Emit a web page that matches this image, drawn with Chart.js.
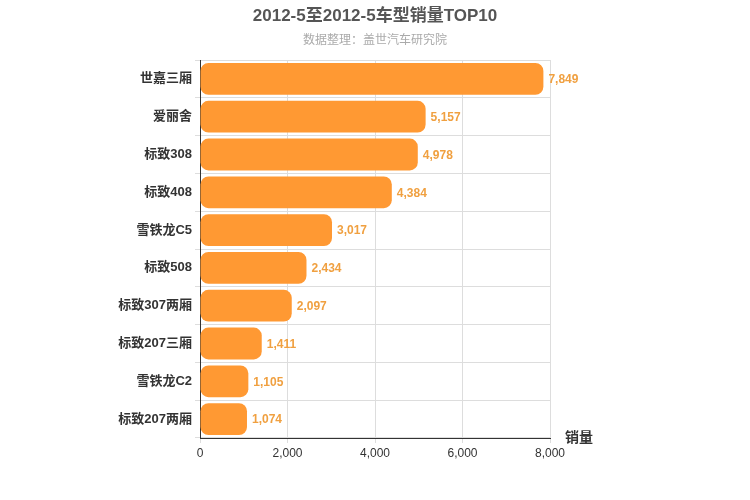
<!DOCTYPE html>
<html>
<head>
<meta charset="utf-8">
<script src="https://cdn.jsdelivr.net/npm/chart.js@4/dist/chart.umd.min.js"></script>
<style>
  body { margin: 0; background: #fff; }
  #wrap { width: 750px; height: 500px; }
</style>
</head>
<body>
<div id="wrap"><canvas id="c"></canvas></div>
<script>
const models = ["世嘉三厢", "爱丽舍", "标致308", "标致408", "雪铁龙C5", "标致508", "标致307两厢", "标致207三厢", "雪铁龙C2", "标致207两厢"];
const sales = [7849, 5157, 4978, 4384, 3017, 2434, 2097, 1411, 1105, 1074];
const xTicks = [0, 2000, 4000, 6000, 8000];

const font = "'Liberation Sans', 'Noto Sans CJK SC', sans-serif";
const fmt = (v) => v.toLocaleString("en-US");

// titles, value labels at bar ends, axis name at the right end
const extras = {
  id: "extras",
  afterDatasetsDraw(chart) {
    const ctx = chart.ctx;
    const meta = chart.getDatasetMeta(0);
    ctx.save();
    ctx.textBaseline = "middle";
    ctx.textAlign = "center";
    ctx.font = "bold 17px " + font;
    ctx.fillStyle = "#555";
    ctx.fillText("2012-5至2012-5车型销量TOP10", 375, 16);
    ctx.font = "12px " + font;
    ctx.fillStyle = "#aaa";
    ctx.fillText("数据整理：盖世汽车研究院", 375, 41);
    ctx.textAlign = "left";
    ctx.font = "bold 12px " + font;
    ctx.fillStyle = "#f0a040";
    meta.data.forEach((bar, i) => ctx.fillText(fmt(sales[i]), bar.x + 5, bar.y + 1));
    const a = chart.chartArea;
    ctx.font = "bold 14px " + font;
    ctx.fillStyle = "#333";
    ctx.fillText("销量", a.right + 15, a.bottom);
    ctx.restore();
  },
};

new Chart(document.getElementById("c"), {
  type: "bar",
  data: {
    labels: models,
    datasets: [{
      data: sales,
      backgroundColor: "#ff9933",
      borderRadius: 8,
      borderSkipped: false,
      barPercentage: 0.84,
      categoryPercentage: 1,
    }],
  },
  options: {
    indexAxis: "y",
    responsive: true,
    maintainAspectRatio: false,
    animation: false,
    layout: { padding: { left: 0, right: 200, top: 60, bottom: 37 } },
    plugins: {
      legend: { display: false },
      tooltip: { enabled: false },
    },
    scales: {
      x: {
        min: 0,
        max: 8000,
        afterBuildTicks: (s) => { s.ticks = xTicks.map((v) => ({ value: v })); },
        afterFit: (s) => { s.height = 25; },
        ticks: { color: "#333", font: { family: font, size: 12 }, callback: (v) => fmt(v) },
        grid: { color: "#ddd", drawTicks: true, tickLength: 5 },
        border: { color: "#333" },
      },
      y: {
        afterFit: (s) => { s.width = 200; },
        ticks: { color: "#333", font: { family: font, size: 13, weight: "bold" } },
        grid: { color: "#ddd", offset: true, tickLength: 5 },
        border: { color: "#333" },
      },
    },
  },
  plugins: [extras],
});
</script>
</body>
</html>
